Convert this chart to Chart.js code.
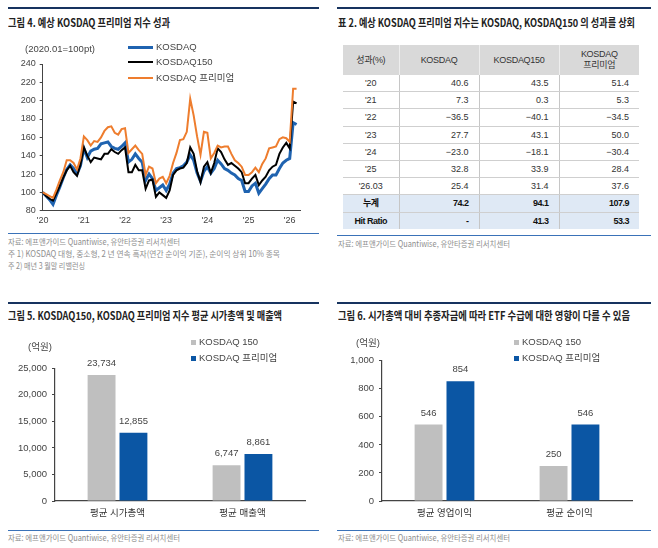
<!DOCTYPE html>
<html>
<head>
<meta charset="utf-8">
<script src="https://cdn.jsdelivr.net/npm/chart.js@4.4.1/dist/chart.umd.min.js"></script>
<style>
body{margin:0;width:658px;height:548px;position:relative;overflow:hidden;background:#fff;font-family:'Liberation Sans','Noto Sans CJK KR',sans-serif;color:#333}
canvas{position:absolute}
.rule{position:absolute;height:2px;background:#17335f}
.thin{position:absolute;height:1px;background:#3a72b8}
.ttl{position:absolute;white-space:nowrap;font-family:'Noto Sans CJK KR',sans-serif;font-weight:700;font-size:11px;line-height:14px;color:#222;transform-origin:0 50%}
.src{position:absolute;white-space:nowrap;font-family:'Noto Sans CJK KR',sans-serif;font-size:8.5px;line-height:12px;color:#8e8e8e;transform-origin:0 50%}
.lbl{position:absolute;white-space:nowrap;font-size:9.5px;line-height:12px;color:#444}
.leg{position:absolute;white-space:nowrap;font-size:9.5px;line-height:12px;color:#444}
.leg i{display:inline-block;vertical-align:middle;margin-right:3px}
#tbl{position:absolute;left:343px;top:45px;width:296px;border-collapse:collapse;table-layout:fixed;font-size:9px;color:#333}
#tbl th{background:#d9d9d9;font-weight:normal;height:30px;padding:0;line-height:11px;border-left:1px solid #eeeeee;letter-spacing:-0.3px}
#tbl th:first-child{border-left:none}
#tbl td{height:16.2px;padding:0 10px 0 0;text-align:right;border-left:1px solid #c6c6c6;border-bottom:1px solid #cfcfcf;line-height:12px}
#tbl td:first-child{border-left:none;text-align:center;padding:0}
#tbl tr.sum td{background:#dfe9f5;font-weight:bold;color:#111;letter-spacing:-0.5px}
#tbl tr:last-child td{border-bottom:none}
</style>
</head>
<body>

<div class="rule" style="left:8px;top:7px;width:311px"></div>
<div class="rule" style="left:337px;top:7px;width:314px"></div>
<div class="rule" style="left:8px;top:302px;width:311px"></div>
<div class="rule" style="left:337px;top:302px;width:314px"></div>
<div class="thin" style="left:8px;top:233px;width:311px"></div>
<div class="thin" style="left:337px;top:235px;width:314px"></div>
<div class="thin" style="left:8px;top:530px;width:311px"></div>
<div class="thin" style="left:337px;top:530px;width:314px"></div>

<div class="ttl" data-w="162" style="left:8px;top:15px">그림 4. 예상 KOSDAQ 프리미엄 지수 성과</div>
<div class="ttl" data-w="297" style="left:338px;top:15px">표 2. 예상 KOSDAQ 프리미엄 지수는 KOSDAQ, KOSDAQ150 의 성과를 상회</div>
<div class="ttl" data-w="274" style="left:8px;top:308px">그림 5. KOSDAQ150, KOSDAQ 프리미엄 지수 평균 시가총액 및 매출액</div>
<div class="ttl" data-w="292" style="left:338px;top:308px">그림 6. 시가총액 대비 추종자금에 따라 ETF 수급에 대한 영향이 다를 수 있음</div>

<div class="src" data-w="172" style="left:8px;top:235px">자료: 에프앤가이드 Quantiwise, 유안타증권 리서치센터</div>
<div class="src" data-w="272" style="left:8px;top:247px">주 1) KOSDAQ 대형, 중소형, 2 년 연속 흑자(연간 순이익 기준), 순이익 상위 10% 종목</div>
<div class="src" data-w="77" style="left:8px;top:259px">주 2) 매년 3 월말 리밸런싱</div>
<div class="src" data-w="172" style="left:338px;top:237px">자료: 에프앤가이드 Quantiwise, 유안타증권 리서치센터</div>
<div class="src" data-w="172" style="left:8px;top:531px">자료: 에프앤가이드 Quantiwise, 유안타증권 리서치센터</div>
<div class="src" data-w="172" style="left:338px;top:531px">자료: 에프앤가이드 Quantiwise, 유안타증권 리서치센터</div>

<canvas id="c1" width="325" height="230" style="left:0;top:0"></canvas>
<div class="lbl" style="left:25px;top:43px">(2020.01=100pt)</div>
<div class="leg" style="left:128px;top:41px"><i style="width:25px;height:3px;background:#1f63b0"></i>KOSDAQ</div>
<div class="leg" style="left:128px;top:56px"><i style="width:25px;height:2px;background:#000"></i>KOSDAQ150</div>
<div class="leg" style="left:128px;top:72px"><i style="width:25px;height:2px;background:#ee7d2e"></i>KOSDAQ 프리미엄</div>

<table id="tbl"></table>

<canvas id="c5" width="330" height="195" style="left:0;top:330px"></canvas>
<div class="lbl" style="left:28px;top:341px">(억원)</div>
<div class="leg" style="left:191px;top:336px"><i style="width:5px;height:5px;background:#bfbfbf"></i>KOSDAQ 150</div>
<div class="leg" style="left:191px;top:352px"><i style="width:5px;height:5px;background:#0b56a4"></i>KOSDAQ 프리미엄</div>

<canvas id="c6" width="328" height="195" style="left:330px;top:330px"></canvas>
<div class="lbl" style="left:356px;top:337px">(억원)</div>
<div class="leg" style="left:514px;top:336px"><i style="width:5px;height:5px;background:#bfbfbf"></i>KOSDAQ 150</div>
<div class="leg" style="left:514px;top:352px"><i style="width:5px;height:5px;background:#0b56a4"></i>KOSDAQ 프리미엄</div>

<script>
// 그림 4: monthly index, 2020.01 = 100
const yearTicks = ["'20", "'21", "'22", "'23", "'24", "'25", "'26"]
const kosdaq = [100,96,92,87,97,106,116,125,130,126,120,129,
  148,138,145,147,148,153,154,155,150,148,147,150,
  154,133,136,142,137,133,113,120,115,102,105,108,
  102,109,121,126,127,129,133,141,135,121,112,123,
  128,121,126,135,131,126,124,121,119,115,113,101,
  101,107,110,99,104,109,115,119,119,126,132,135,
  137,176,174]
const kosdaq150 = [100,96,93,91,99,107,116,124,129,122,118,130,
  149,140,133,138,137,136,142,142,147,144,142,146,
  149,122,122,130,124,124,104,113,114,95,100,97,
  94,102,119,124,126,127,132,149,142,123,111,128,
  133,121,132,148,144,136,130,132,129,126,122,110,
  110,115,119,108,113,117,124,128,130,142,149,154,
  148,199,197]
const premium = [100,98,96,94,103,113,122,135,135,132,125,137,
  161,157,151,156,155,160,167,171,172,165,163,169,
  170,143,147,151,146,142,119,128,126,110,115,117,
  110,118,132,143,157,158,166,202,184,161,141,166,
  165,137,143,151,149,150,150,142,135,132,128,119,
  119,122,127,122,131,137,148,149,150,158,160,159,
  155,213,213]

// 표 2
const tblHead = ['성과(%)', 'KOSDAQ', 'KOSDAQ150', 'KOSDAQ<br>프리미엄']
const tblYears = ["'20", "'21", "'22", "'23", "'24", "'25", "'26.03"]
const tblKosdaq = [40.6, 7.3, -36.5, 27.7, -23.0, 32.8, 25.4]
const tbl150 = [43.5, 0.3, -40.1, 43.1, -18.1, 33.9, 31.4]
const tblPrem = [51.4, 5.3, -34.5, 50.0, -30.4, 28.4, 37.6]
const tblCum = [74.2, 94.1, 107.9]
const tblHit = ['-', 41.3, 53.3]

// 그림 5, 6 (억원)
const cats5 = ['평균 시가총액', '평균 매출액']
const k150cap = [23734, 6747]
const premCap = [12855, 8861]
const cats6 = ['평균 영업이익', '평균 순이익']
const k150prof = [546, 250]
const premProf = [854, 546]

const FONT = "'Liberation Sans','Noto Sans CJK KR',sans-serif"
Chart.defaults.font.family = FONT
Chart.defaults.color = '#444'

// title / source widths
document.querySelectorAll('[data-w]').forEach(el => {
  el.style.display = 'inline-block'
  let w = el.getBoundingClientRect().width
  el.style.transform = 'scaleX(' + (el.dataset.w / w) + ')'
})

// table
let fmt = v => typeof v === 'number' ? v.toFixed(1).replace('-', '−') : v
let html = '<colgroup><col style="width:56px"><col style="width:80px"><col style="width:80px"><col style="width:80px"></colgroup>'
html += '<tr>' + tblHead.map(h => `<th>${h}</th>`).join('') + '</tr>'
for (let i = 0; i < tblYears.length; i++) {
  html += `<tr><td>${tblYears[i]}</td><td>${fmt(tblKosdaq[i])}</td><td>${fmt(tbl150[i])}</td><td>${fmt(tblPrem[i])}</td></tr>`
}
html += `<tr class="sum"><td>누계</td>${tblCum.map(v => `<td>${fmt(v)}</td>`).join('')}</tr>`
html += `<tr class="sum"><td>Hit Ratio</td>${tblHit.map(v => `<td>${fmt(v)}</td>`).join('')}</tr>`
document.getElementById('tbl').innerHTML = html

// line chart
let months = []
for (let i = 0; i <= premium.length; i++) {
  months.push(i < premium.length ? (2020 + Math.floor(i / 12)) + '.' + String(i % 12 + 1).padStart(2, '0') : '')
}

new Chart(document.getElementById('c1'), {
  type: 'line',
  data: {
    labels: months,
    datasets: [
      {label: 'KOSDAQ', data: kosdaq, borderColor: '#1f63b0', borderWidth: 3, order: 3},
      {label: 'KOSDAQ150', data: kosdaq150, borderColor: '#000', borderWidth: 2, order: 2},
      {label: 'KOSDAQ 프리미엄', data: premium, borderColor: '#ee7d2e', borderWidth: 2, order: 1}
    ]
  },
  options: {
    responsive: false,
    animation: false,
    layout: {padding: {top: 64, right: 25, left: 0, bottom: 0}},
    plugins: {legend: {display: false}, tooltip: {enabled: false}},
    elements: {point: {radius: 0}, line: {tension: 0}},
    scales: {
      x: {
        grid: {display: false, drawTicks: false},
        border: {color: '#444'},
        ticks: {autoSkip: false, maxRotation: 0, padding: 4, font: {size: 9},
          callback: (v, i) => i % 12 === 0 ? yearTicks[i / 12] : ''},
        afterFit: s => { s.height = 230 - 210.7 }
      },
      y: {
        min: 80, max: 240,
        grid: {drawOnChartArea: false, tickLength: 3, color: '#444'},
        border: {color: '#444'},
        ticks: {stepSize: 20, padding: 4, font: {size: 9}},
        afterFit: s => { s.width = 42.7 }
      }
    }
  }
})

// value labels above bars
const barLabels = {
  id: 'barLabels',
  afterDatasetsDraw(chart) {
    let ctx = chart.ctx
    ctx.save()
    ctx.font = '9.5px ' + FONT
    ctx.fillStyle = '#444'
    ctx.textAlign = 'center'
    ctx.textBaseline = 'middle'
    chart.data.datasets.forEach((ds, i) => {
      chart.getDatasetMeta(i).data.forEach((bar, j) => {
        ctx.fillText(ds.data[j].toLocaleString('en-US'), bar.x, bar.y - 11.5)
      })
    })
    ctx.restore()
  }
}

function barChart(id, cats, a, b, max, step, yw, top, right) {
  new Chart(document.getElementById(id), {
    type: 'bar',
    data: {
      labels: cats,
      datasets: [
        {label: 'KOSDAQ 150', data: a, backgroundColor: '#bfbfbf'},
        {label: 'KOSDAQ 프리미엄', data: b, backgroundColor: '#0b56a4'}
      ]
    },
    plugins: [barLabels],
    options: {
      responsive: false,
      animation: false,
      categoryPercentage: 0.51,
      barPercentage: 0.875,
      layout: {padding: {top: top, right: right, left: 0, bottom: 0}},
      plugins: {legend: {display: false}, tooltip: {enabled: false}},
      scales: {
        x: {
          grid: {display: false, drawTicks: false},
          border: {color: '#444', width: 1.2},
          ticks: {padding: 7, font: {size: 9.5}, color: '#333'},
          afterFit: s => { s.height = 24 }
        },
        y: {
          min: 0, max: max,
          grid: {drawOnChartArea: false, tickLength: 3, color: '#444'},
          border: {color: '#444', width: 1.2},
          ticks: {stepSize: step, padding: 5, font: {size: 9.5},
            callback: v => v.toLocaleString('en-US')},
          afterFit: s => { s.width = yw }
        }
      }
    }
  })
}

barChart('c5', cats5, k150cap, premCap, 25000, 5000, 55, 38.3, 25)
barChart('c6', cats6, k150prof, premProf, 1000, 200, 52, 30.7, 26)
</script>
</body>
</html>
